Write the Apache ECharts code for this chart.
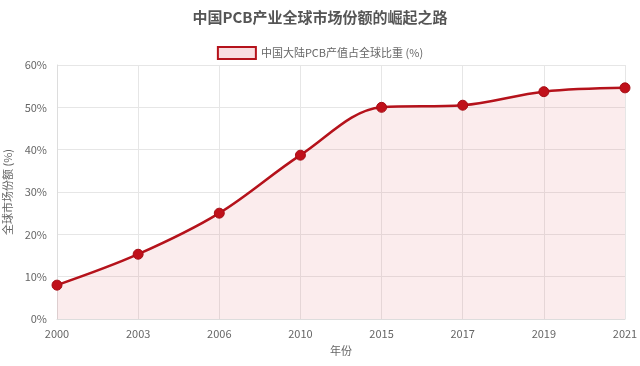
<!DOCTYPE html>
<html><head><meta charset="utf-8">
<script src="https://cdn.jsdelivr.net/npm/echarts@6/dist/echarts.min.js"></script>
<style>html,body{margin:0;padding:0;background:#fff}#c{width:640px;height:366px}</style>
</head><body><div id="c"></div>
<script>
const years = ['2000','2003','2006','2010','2015','2017','2019','2021'];
const shares = [8.0, 15.3, 25.0, 38.7, 50.0, 50.5, 53.7, 54.6];
const seriesName = '中国大陆PCB产值占全球比重 (%)';
const chart = echarts.init(document.getElementById('c'));
const font = '"Noto Sans CJK SC", "Helvetica Neue", Arial, sans-serif';
chart.setOption({
  animation: false,
  title: {text: '中国PCB产业全球市场份额的崛起之路', left: 'center', top: 5,
    textStyle: {fontSize: 15, fontWeight: 'bold', color: '#555', fontFamily: font}},
  legend: {top: 41, left: 'center', itemWidth: 38, itemHeight: 12, itemGap: 6,
    textStyle: {fontSize: 11, color: '#666', fontFamily: font},
    data: [{name: seriesName, icon: 'rect', itemStyle: {color: 'rgba(230,120,130,0.25)', borderColor: '#b5121b', borderWidth: 2}}]},
  grid: {left: 57, right: 15, top: 65, bottom: 47, outerBoundsMode: 'none', containLabel: false},
  xAxis: {type: 'category', data: years, boundaryGap: false,
    name: '年份', nameLocation: 'middle', nameGap: 26,
    nameTextStyle: {fontSize: 11, color: '#666', fontFamily: font},
    axisLine: {lineStyle: {color: '#ddd'}}, axisTick: {show: false},
    axisLabel: {fontSize: 11, color: '#666', margin: 9, fontFamily: font},
    splitLine: {show: true, lineStyle: {color: '#e6e6e6'}}},
  yAxis: {type: 'value', min: 0, max: 60, interval: 10,
    name: '全球市场份额 (%)', nameLocation: 'middle', nameGap: 42, nameRotate: 90,
    nameTextStyle: {fontSize: 11, color: '#666', fontFamily: font},
    axisLine: {show: true, lineStyle: {color: '#ddd'}}, axisTick: {show: false},
    axisLabel: {fontSize: 11, color: '#666', margin: 10, formatter: '{value}%', fontFamily: font},
    splitLine: {lineStyle: {color: '#e6e6e6'}}},
  series: [{name: seriesName, type: 'line', data: shares, smooth: 0.35,
    symbol: 'circle', symbolSize: 10,
    lineStyle: {color: '#b5121b', width: 2.5},
    itemStyle: {color: '#c0101a', borderColor: '#a50e16', borderWidth: 1},
    areaStyle: {color: 'rgba(230,120,130,0.2)'}}]
});
</script></body></html>
